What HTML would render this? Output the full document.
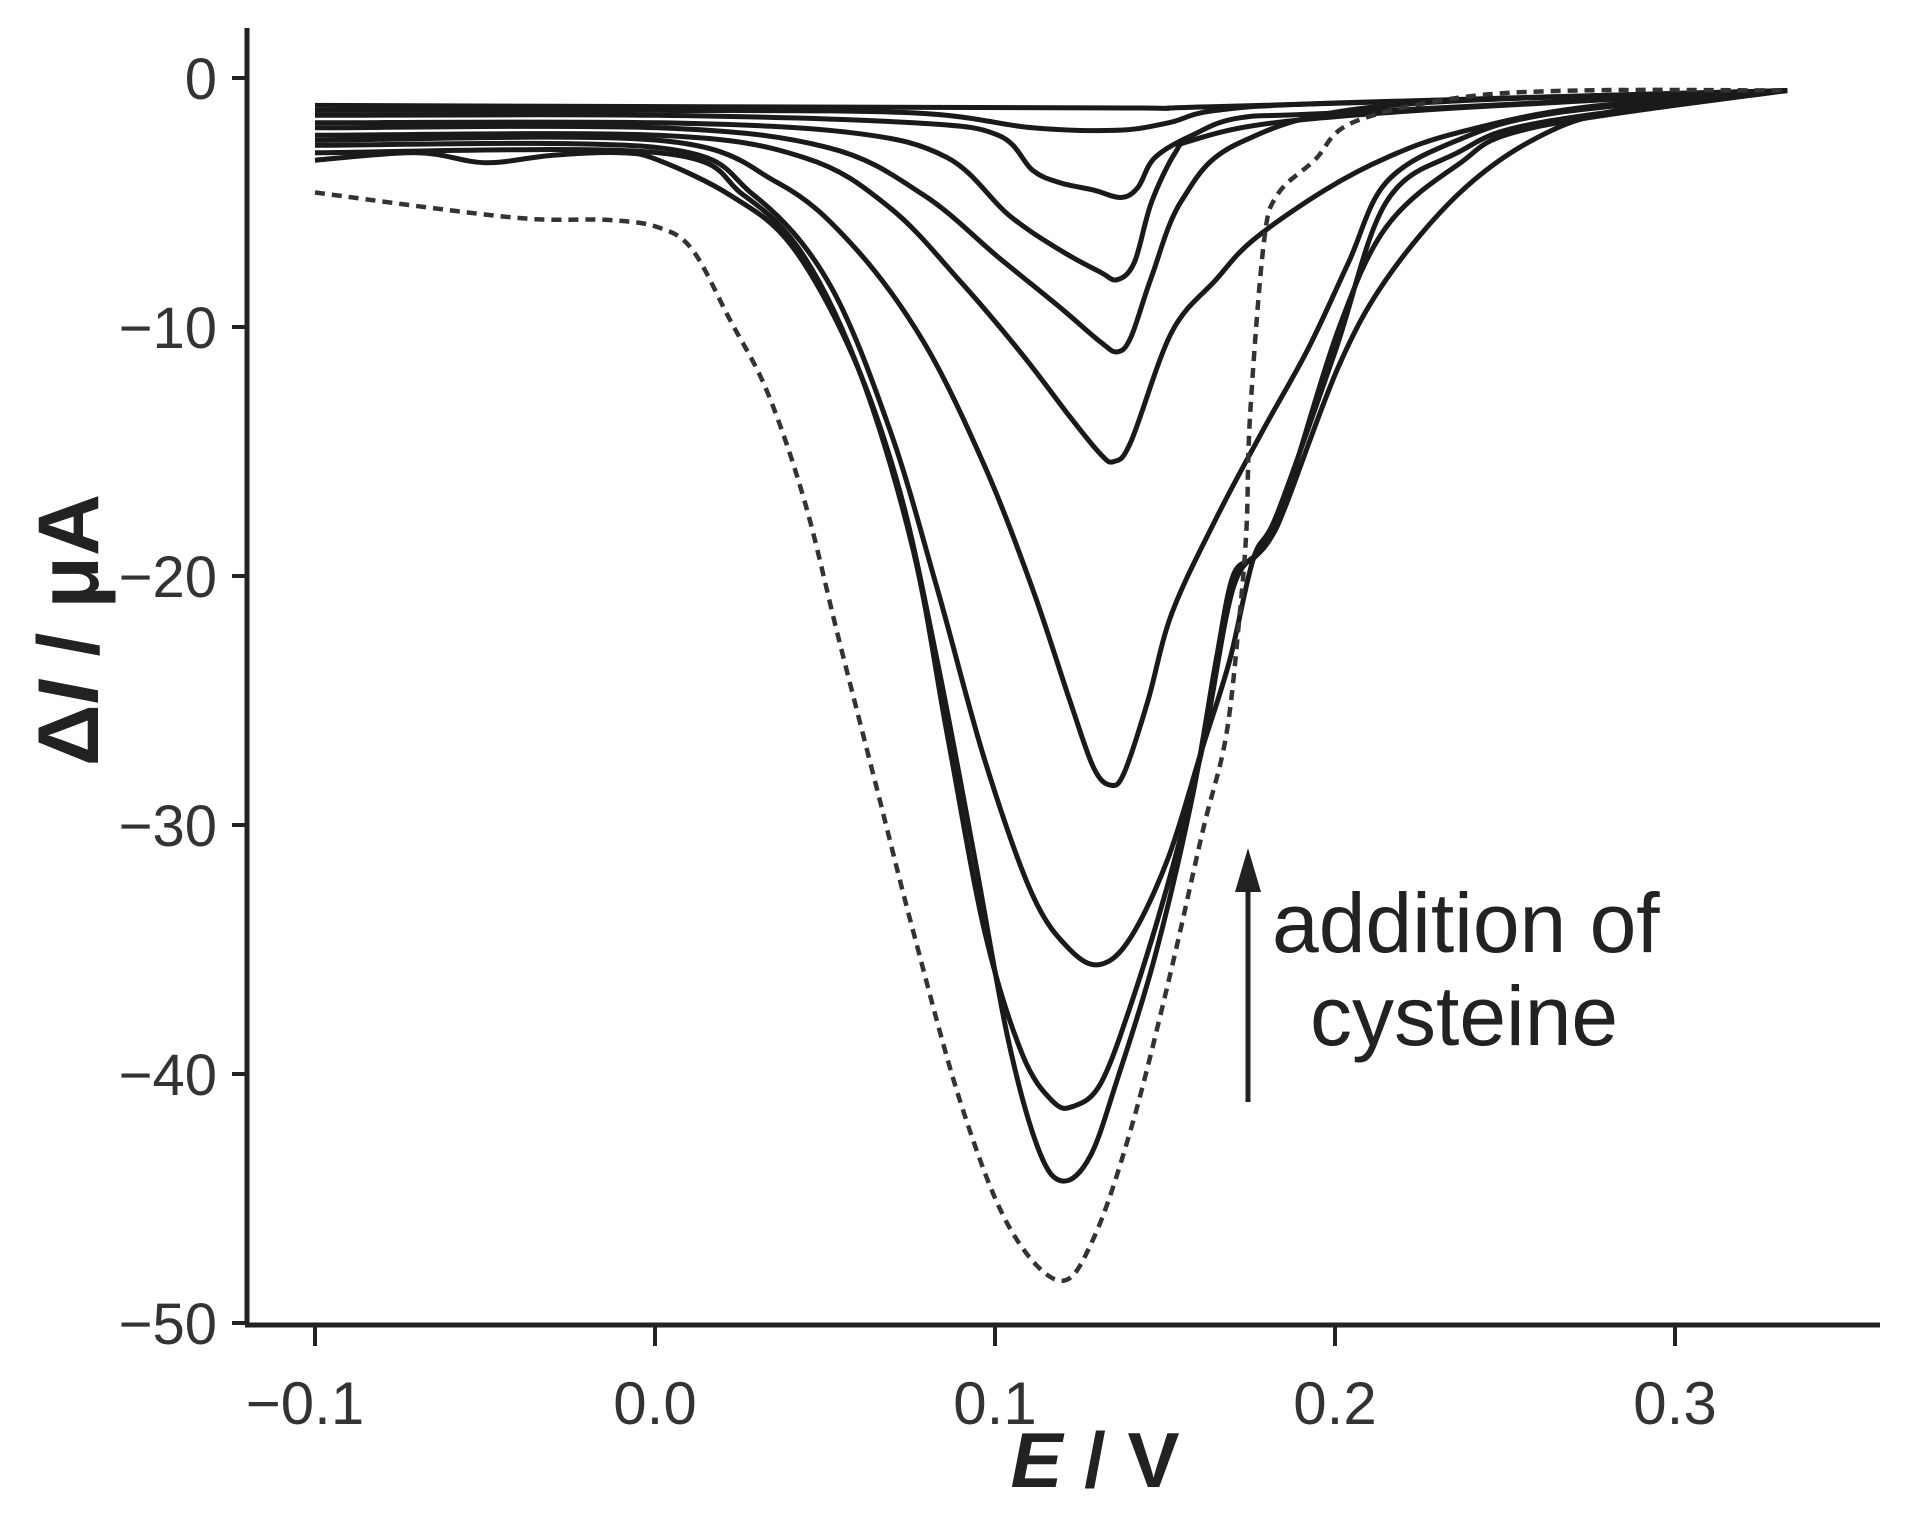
<!DOCTYPE html>
<html><head><meta charset="utf-8"><style>
html,body{margin:0;padding:0;background:#fff;}
svg{display:block;}
</style></head><body>
<svg id="chart" width="1910" height="1532" viewBox="0 0 1910 1532" xmlns="http://www.w3.org/2000/svg" font-family="Liberation Sans, Arial, sans-serif">
<g id="axes"></g>
<g id="series"></g>
<g>
  <line x1="1248" y1="1102" x2="1248" y2="880" stroke="#222" stroke-width="5"/>
  <polygon points="1248,848 1235,892 1261,892" fill="#222"/>
  <text x="1272" y="952" font-size="84" fill="#222">addition of</text>
  <text x="1310" y="1045" font-size="84" fill="#222">cysteine</text>
</g>
<text transform="translate(98,630) rotate(-90)" text-anchor="middle" font-size="86" font-weight="bold" fill="#222">Δ<tspan font-style="italic">I</tspan> / μA</text>
<text x="1095" y="1487" text-anchor="middle" font-size="78" font-weight="bold" fill="#222"><tspan font-style="italic">E</tspan> / V</text>
</svg>
<script>
const xTicks = [-0.1, 0.0, 0.1, 0.2, 0.3];
const xTickLabels = ["\u22120.1", "0.0", "0.1", "0.2", "0.3"];
const yTicks = [0, -10, -20, -30, -40, -50];
const yTickLabels = ["0", "\u221210", "\u221220", "\u221230", "\u221240", "\u221250"];

const dashedE = [-0.1,-0.042,-0.014,0.001,0.011,0.022,0.033,0.044,0.054,0.065,0.076,0.09,0.104,0.119,0.129,0.140,0.151,0.161,0.168,0.172,0.174,0.175,0.179,0.183,0.194,0.205,0.236,0.272,0.333];
const dashedI = [-4.6,-5.6,-5.7,-6.0,-6.9,-9.7,-12.6,-17,-22.5,-28.4,-34.3,-41.2,-46.1,-48.3,-46.6,-42.2,-36.3,-30.3,-26.4,-21.5,-18,-13.6,-6.7,-4.7,-3.3,-1.8,-0.8,-0.5,-0.5];

const curveAE = [-0.1,-0.07,-0.05,-0.03,-0.01,0.001,0.022,0.04,0.058,0.072,0.083,0.094,0.104,0.113,0.12,0.128,0.136,0.147,0.158,0.165,0.17,0.176,0.181,0.186,0.201,0.215,0.236,0.258,0.283,0.333];
const curveAI = [-3.3,-3.0,-3.4,-3.1,-3.0,-3.3,-4.7,-6.7,-11.1,-16.6,-23.4,-31.3,-38.7,-43.1,-44.3,-43.3,-40.2,-35.3,-28.9,-23.4,-20,-19.3,-18.5,-17,-11.6,-8.1,-4.7,-2.5,-1.3,-0.5];

const curveBE = [-0.1,0.001,0.026,0.044,0.061,0.076,0.086,0.097,0.108,0.117,0.123,0.131,0.14,0.151,0.161,0.17,0.179,0.186,0.201,0.215,0.236,0.258,0.333];
const curveBI = [-3.0,-3.0,-4.7,-7.2,-12.1,-19,-26.4,-34.3,-39.2,-41.1,-41.3,-40.4,-37.2,-32.3,-26.9,-20.5,-18.8,-16.6,-10.1,-6.0,-3.5,-2.0,-0.5];

const curveCE = [-0.1,0.001,0.029,0.051,0.069,0.083,0.097,0.111,0.122,0.131,0.14,0.151,0.161,0.169,0.176,0.183,0.2,0.215,0.236,0.26,0.333];
const curveCI = [-2.7,-2.8,-4.7,-8.2,-14.1,-20.5,-27.4,-32.8,-35.0,-35.6,-34.5,-31.3,-26.9,-23.4,-19.3,-17.5,-11,-5.0,-3.0,-1.8,-0.5];

const curveDE = [-0.1,0.001,0.036,0.058,0.079,0.097,0.111,0.122,0.129,0.134,0.138,0.145,0.152,0.165,0.179,0.192,0.204,0.215,0.236,0.265,0.333];
const curveDI = [-2.5,-2.5,-4.2,-6.7,-10.6,-15.6,-20.5,-25.0,-27.7,-28.4,-27.9,-25.0,-21.5,-17.7,-14.1,-10.9,-7.4,-4.2,-2.5,-1.4,-0.5];

const curveEE = [-0.1,0.001,0.044,0.069,0.09,0.108,0.122,0.131,0.135,0.14,0.152,0.165,0.176,0.197,0.216,0.236,0.272,0.333];
const curveEI = [-2.3,-2.3,-3.2,-5.2,-8.2,-11.1,-13.6,-15.1,-15.4,-14.6,-10.2,-8.1,-6.5,-4.5,-3.15,-2.2,-1.2,-0.5];

const curveFE = [-0.1,0.001,0.051,0.079,0.101,0.119,0.131,0.136,0.14,0.146,0.155,0.172,0.216,0.333];
const curveFI = [-2.0,-2.0,-2.8,-4.7,-7.2,-9.2,-10.6,-11,-10.4,-8.0,-4.9,-2.6,-1.1,-0.5];

const curveGE = [-0.1,0.001,0.058,0.086,0.104,0.119,0.131,0.136,0.141,0.146,0.153,0.158,0.182,0.236,0.333];
const curveGI = [-1.8,-1.8,-2.2,-3.2,-5.5,-6.9,-7.8,-8.1,-7.4,-5.0,-3.0,-2.5,-1.8,-1.2,-0.5];

const curveHE = [-0.1,0.001,0.076,0.101,0.111,0.119,0.129,0.137,0.142,0.147,0.158,0.172,0.201,0.333];
const curveHI = [-1.5,-1.5,-1.8,-2.3,-3.7,-4.2,-4.5,-4.8,-4.4,-3.2,-2.3,-1.6,-1.4,-0.5];

const curveIE = [-0.1,0.001,0.076,0.111,0.136,0.151,0.165,0.201,0.333];
const curveII = [-1.3,-1.3,-1.4,-2.0,-2.1,-1.8,-1.3,-1.0,-0.5];

const curveJE = [-0.1,0.129,0.165,0.333];
const curveJI = [-1.1,-1.2,-1.15,-0.5];

const NS = "http://www.w3.org/2000/svg";
function xs(e){ return 655 + e*3400; }
function ys(i){ return 78 - i*24.9; }
function mk(tag, attrs, parent){
  const el = document.createElementNS(NS, tag);
  for (const k in attrs) el.setAttribute(k, attrs[k]);
  parent.appendChild(el);
  return el;
}
function pathFrom(E, I){
  const p = E.map((e,k)=>[xs(e), ys(I[k])]);
  let d = "M" + p[0][0].toFixed(1) + "," + p[0][1].toFixed(1);
  for (let k=0;k<p.length-1;k++){
    const p0 = p[k-1]||p[k], p1=p[k], p2=p[k+1], p3=p[k+2]||p[k+1];
    const t = 6;
    const c1 = [p1[0]+(p2[0]-p0[0])/t, p1[1]+(p2[1]-p0[1])/t];
    const c2 = [p2[0]-(p3[0]-p1[0])/t, p2[1]-(p3[1]-p1[1])/t];
    d += " C"+c1[0].toFixed(1)+","+c1[1].toFixed(1)+" "+c2[0].toFixed(1)+","+c2[1].toFixed(1)+" "+p2[0].toFixed(1)+","+p2[1].toFixed(1);
  }
  return d;
}

const axes = document.getElementById("axes");
const yAxis = mk("line",{x1:247,y1:28,x2:247,y2:1325,stroke:"#222","stroke-width":5},axes);


const xAxis = mk("line",{x1:245,y1:1325,x2:1880,y2:1325,stroke:"#222","stroke-width":5},axes);



yTicks.forEach((v,k)=>{
  const y = ys(v);
  const t = mk("line",{x1:232,y1:y,x2:247,y2:y,stroke:"#222","stroke-width":4},axes);
  
  
  const lb = mk("text",{x:217,y:y+21,"text-anchor":"end","font-size":58,fill:"#333"},axes);
  
  
  lb.textContent = yTickLabels[k];
});
xTicks.forEach((v,k)=>{
  const x = xs(v);
  const t = mk("line",{x1:x,y1:1325,x2:x,y2:1346,stroke:"#222","stroke-width":4},axes);
  
  
  const lb = mk("text",{x:x+(k===0?-10:0),y:1424,"text-anchor":"middle","font-size":60,fill:"#333"},axes);
  
  
  lb.textContent = xTickLabels[k];
});

const series = document.getElementById("series");
const solids = [[curveAE,curveAI],[curveBE,curveBI],[curveCE,curveCI],[curveDE,curveDI],[curveEE,curveEI],[curveFE,curveFI],[curveGE,curveGI],[curveHE,curveHI],[curveIE,curveII],[curveJE,curveJI]];
solids.forEach(([E,I])=>{
  const p = mk("path",{d:pathFrom(E,I),fill:"none",stroke:"#1a1a1a","stroke-width":5,"stroke-linejoin":"round"},series);
  
  
});
const dp = mk("path",{d:pathFrom(dashedE,dashedI),fill:"none",stroke:"#333","stroke-width":4.5,"stroke-dasharray":"10,7"},series);


</script>
</body></html>
